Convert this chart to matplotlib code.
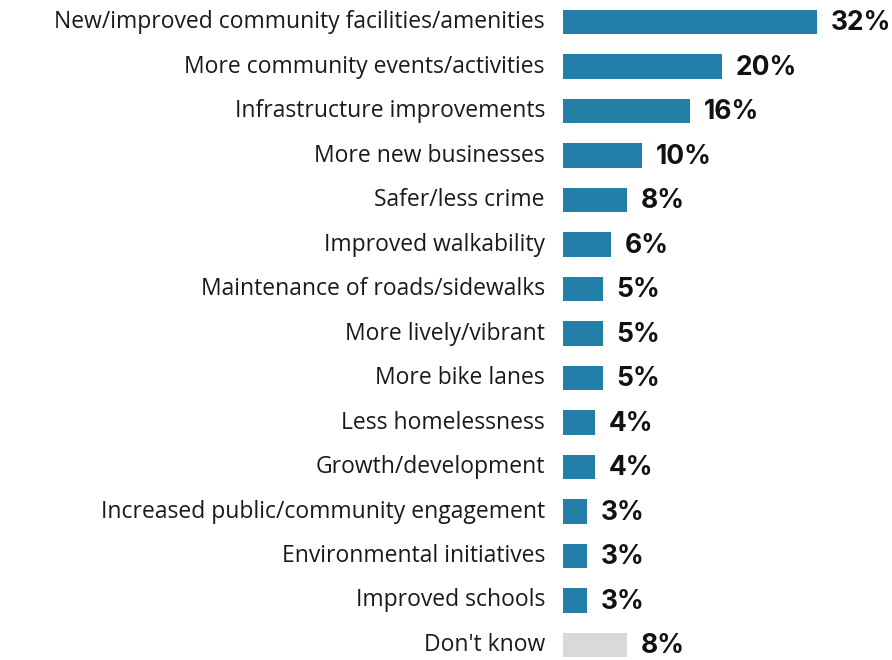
import numpy as np
import matplotlib.pyplot as plt

categories = [
    "New/improved community facilities/amenities",
    "More community events/activities",
    "Infrastructure improvements",
    "More new businesses",
    "Safer/less crime",
    "Improved walkability",
    "Maintenance of roads/sidewalks",
    "More lively/vibrant",
    "More bike lanes",
    "Less homelessness",
    "Growth/development",
    "Increased public/community engagement",
    "Environmental initiatives",
    "Improved schools",
    "Don't know",
]
values = [32, 20, 16, 10, 8, 6, 5, 5, 5, 4, 4, 3, 3, 3, 8]

blue = "#237fa8"
gray = "#d9d9d9"
colors = [blue] * (len(values) - 1) + [gray]

W, H = 892, 660
fig = plt.figure(figsize=(W / 100, H / 100), dpi=100)
# bars start at x=563 px, ~7.94 px per percent
ax = fig.add_axes([563 / W, 0, 40 * 7.94 / W, 1])

y = np.arange(len(values))
ax.barh(y, values, height=0.54, color=colors)
ax.set_xlim(0, 40)
ax.set_ylim((H - 22) / 44.5, -22 / 44.5)
ax.axis("off")

for yi, label, v in zip(y, categories, values):
    ax.annotate(label, (0, yi), xytext=(-13, 0), textcoords="offset points",
                ha="right", va="center", fontsize=16.5, family="Open Sans",
                color="#1a1a1a")
    ax.annotate(f"{v}%", (v, yi), xytext=(10, -1), textcoords="offset points",
                ha="left", va="center", fontsize=19, family="Inter",
                fontweight="bold", color="#111111")

fig.savefig("out.png", dpi=100)
